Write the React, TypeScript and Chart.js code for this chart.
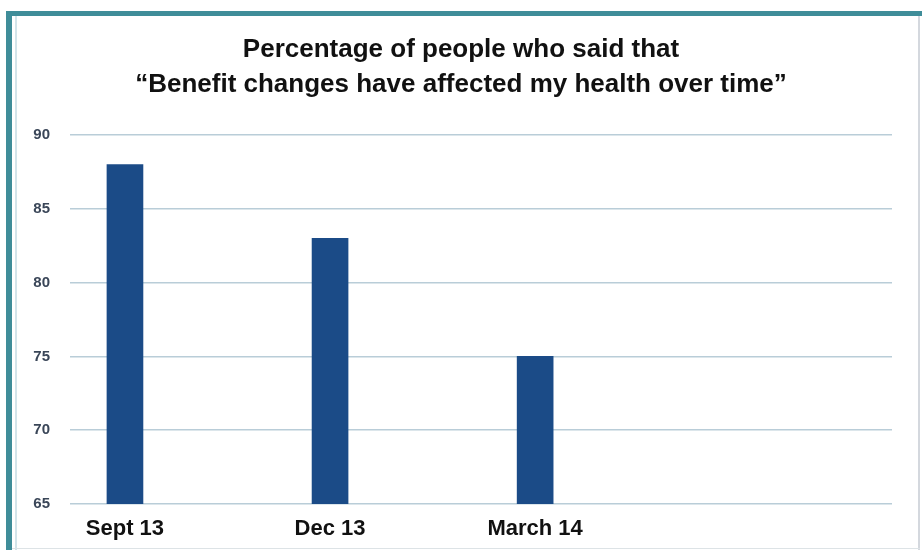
import React, { useEffect, useRef } from "react";
import { Chart, registerables } from "chart.js";

Chart.register(...registerables);

const categories = ["Sept 13", "Dec 13", "March 14"];
const values = [88, 83, 75];
const yTicks = [65, 70, 75, 80, 85, 90];
const titleLines = [
  "Percentage of people who said that",
  "\u201cBenefit changes have affected my health over time\u201d",
];

const FONT = "'Liberation Sans', Arial, sans-serif";

export default function App() {
  const ref = useRef<HTMLCanvasElement | null>(null);

  useEffect(() => {
    if (!ref.current) return;
    const chart = new Chart(ref.current, {
      type: "bar",
      data: {
        datasets: [
          {
            data: values.map((v, i) => ({ x: i, y: v })),
            backgroundColor: "#1b4b87",
            borderWidth: 0,
            barThickness: 36,
          },
        ],
      },
      options: {
        responsive: false,
        animation: false,
        layout: { padding: { left: 0, right: 0, top: 0, bottom: 0 } },
        plugins: {
          legend: { display: false },
          tooltip: { enabled: false },
          title: {
            display: true,
            text: titleLines,
            color: "#111111",
            font: { family: FONT, size: 26, weight: "bold", lineHeight: 1.346 },
            padding: { top: 32, bottom: 33 },
          },
        },
        scales: {
          x: {
            type: "linear",
            offset: false,
            min: -0.268,
            max: 3.74,
            grid: { display: false, drawTicks: false },
            border: { display: false },
            afterFit: (s: any) => {
              s.height = 46;
            },
            ticks: {
              stepSize: 1,
              includeBounds: false,
              autoSkip: false,
              maxRotation: 0,
              padding: 12,
              color: "#111111",
              font: { family: FONT, size: 22, weight: "bold" },
              callback: (v: any) => {
                const n = Number(v);
                return Number.isInteger(n) && n >= 0 && n < categories.length ? categories[n] : "";
              },
            },
          },
          y: {
            min: yTicks[0],
            max: yTicks[yTicks.length - 1],
            afterFit: (s: any) => {
              s.width = 70;
            },
            grid: { color: "#b9cdd8", lineWidth: 1.5, drawTicks: false },
            border: { display: false },
            ticks: {
              stepSize: 5,
              padding: 20,
              color: "#3a4658",
              font: { family: FONT, size: 15, weight: "bold" },
            },
          },
          yRight: {
            type: "linear",
            position: "right",
            display: true,
            grid: { display: false, drawTicks: false },
            border: { display: false },
            ticks: { display: false },
            afterFit: (s: any) => {
              s.width = 30;
            },
          },
        },
      },
    });
    return () => chart.destroy();
  }, []);

  return (
    <div style={{ position: "fixed", left: 0, top: 0, width: 922, height: 550, background: "#ffffff", overflow: "hidden" }}>
      <div style={{ position: "absolute", left: 6, top: 11, width: 916, height: 5, background: "#3f8d99" }} />
      <div style={{ position: "absolute", left: 6, top: 11, width: 6, height: 539, background: "#3f8d99" }} />
      <div style={{ position: "absolute", left: 15, top: 16, width: 2, height: 534, background: "#d3e4ea" }} />
      <div style={{ position: "absolute", left: 918, top: 16, width: 2, height: 534, background: "#d4d8de" }} />
      <div style={{ position: "absolute", left: 12, top: 548, width: 908, height: 1, background: "#dde3e6" }} />
      <canvas ref={ref} width={922} height={550} style={{ position: "absolute", left: 0, top: 0 }} />
    </div>
  );
}
